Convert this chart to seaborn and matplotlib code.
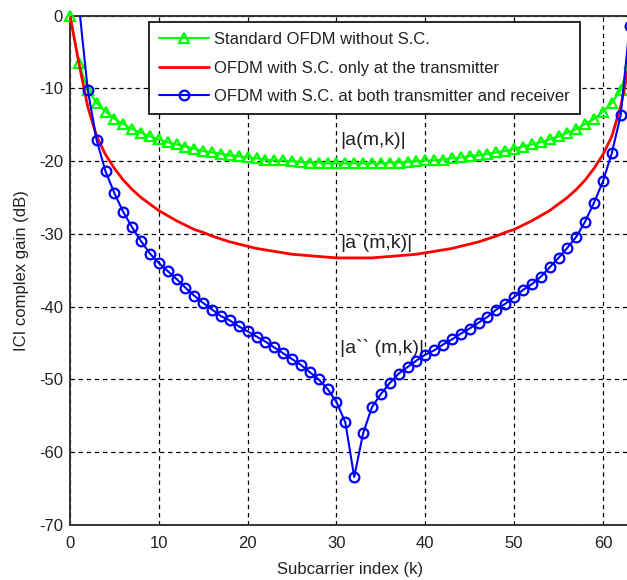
import matplotlib
matplotlib.use("Agg")
import matplotlib.pyplot as plt
import seaborn as sns

# subcarrier index
subcarrier = list(range(64))

# ICI complex gain (dB)
standard_ofdm = [0.0, -6.5, -10.2, -12.0, -13.2, -14.2, -14.9, -15.6, -16.1, -16.6,
                 -17.0, -17.4, -17.7, -18.0, -18.3, -18.6, -18.8, -19.0, -19.2, -19.3,
                 -19.5, -19.6, -19.8, -19.9, -19.9, -20.0, -20.1, -20.2, -20.2, -20.3,
                 -20.3, -20.3, -20.3, -20.3, -20.3, -20.3, -20.2, -20.2, -20.1, -20.0,
                 -19.9, -19.9, -19.8, -19.6, -19.5, -19.3, -19.2, -19.0, -18.8, -18.6,
                 -18.3, -18.0, -17.7, -17.4, -17.0, -16.6, -16.1, -15.6, -14.9, -14.2,
                 -13.2, -12.0, -10.2, -6.5]
sc_tx_only = [0.0, -6.5, -12.5, -16.6, -19.1, -21.0, -22.6, -23.9, -25.0, -25.9,
              -26.8, -27.5, -28.2, -28.8, -29.4, -29.8, -30.3, -30.7, -31.1, -31.4,
              -31.7, -32.0, -32.2, -32.4, -32.6, -32.8, -32.9, -33.0, -33.1, -33.2,
              -33.3, -33.3, -33.3, -33.3, -33.3, -33.2, -33.1, -33.0, -32.9, -32.8,
              -32.6, -32.4, -32.2, -32.0, -31.7, -31.4, -31.1, -30.7, -30.3, -29.8,
              -29.4, -28.8, -28.2, -27.5, -26.8, -25.9, -25.0, -23.9, -22.6, -21.0,
              -19.1, -16.6, -12.5, -6.5]
sc_tx_rx = [5.0, 1.5, -10.2, -17.1, -21.4, -24.4, -27.0, -29.1, -31.0, -32.7,
            -34.0, -35.1, -36.2, -37.4, -38.5, -39.5, -40.4, -41.3, -41.9, -42.7,
            -43.4, -44.1, -44.8, -45.6, -46.4, -47.2, -48.0, -49.0, -50.0, -51.3,
            -53.1, -55.9, -63.4, -57.4, -53.8, -52.0, -50.5, -49.2, -48.3, -47.4,
            -46.6, -46.0, -45.2, -44.5, -43.7, -43.0, -42.2, -41.4, -40.4, -39.6,
            -38.7, -37.7, -36.9, -35.9, -34.6, -33.3, -31.9, -30.4, -28.3, -25.7,
            -22.8, -18.9, -13.7, -1.5]

legend_labels = ["Standard OFDM without S.C.",
                 "OFDM with S.C. only at the transmitter",
                 "OFDM with S.C. at both transmitter and receiver"]

sns.set_style("white")
plt.rcParams["font.family"] = ["Liberation Sans", "DejaVu Sans"]
plt.rcParams["axes.unicode_minus"] = False
txt = "#222222"
fs = 12

fig = plt.figure(figsize=(6.27, 5.8), dpi=100)
ax = fig.add_axes([0.1116, 0.0948, 0.8925, 0.8784])

sns.lineplot(x=subcarrier, y=standard_ofdm, ax=ax, color="#00ff00", linewidth=1.5,
             marker="^", markersize=7, markerfacecolor="none", markeredgecolor="#00ff00",
             markeredgewidth=1.6, label=legend_labels[0], clip_on=False, zorder=3)
sns.lineplot(x=subcarrier, y=sc_tx_only, ax=ax, color="#ff0000", linewidth=2,
             label=legend_labels[1], zorder=3)
sns.lineplot(x=subcarrier, y=sc_tx_rx, ax=ax, color="#0000ff", linewidth=1.5,
             marker="o", markersize=7, markerfacecolor="none", markeredgecolor="#0000ff",
             markeredgewidth=1.6, label=legend_labels[2], zorder=4)

ax.set_xlim(0, 63)
ax.set_ylim(-70, 0)
ax.set_xticks(range(0, 61, 10))
ax.set_yticks(range(-70, 1, 10))
ax.grid(True, linestyle=(0, (3.5, 3)), color="black", linewidth=0.9)
ax.set_axisbelow(True)
ax.tick_params(direction="in", length=4, labelsize=fs, colors=txt, pad=5)
ax.tick_params(axis="x", pad=8)
for side in ["left", "bottom", "top", "right"]:
    ax.spines[side].set_color("#333333")
    ax.spines[side].set_linewidth(1.4)

ax.set_xlabel("Subcarrier index (k)", fontsize=fs, color=txt, labelpad=8)
ax.set_ylabel("ICI complex gain (dB)", fontsize=fs, color=txt, labelpad=7)

ax.text(30.4, -17.1, "|a(m,k)|", fontsize=14, color=txt, ha="left", va="center")
ax.text(30.4, -31.2, "|a`(m,k)|", fontsize=14, color=txt, ha="left", va="center")
ax.text(30.4, -45.7, "|a`` (m,k)|", fontsize=14, color=txt, ha="left", va="center")

leg = ax.legend(loc="upper right", bbox_to_anchor=(0.911, 0.987), borderaxespad=0,
                fontsize=fs, handlelength=3.0, handletextpad=0.3, labelspacing=0.8,
                borderpad=0.6, fancybox=False, framealpha=1, edgecolor="black")
leg.get_frame().set_linewidth(1.2)
for t in leg.get_texts():
    t.set_color(txt)

fig.savefig("out.png", dpi=100)
